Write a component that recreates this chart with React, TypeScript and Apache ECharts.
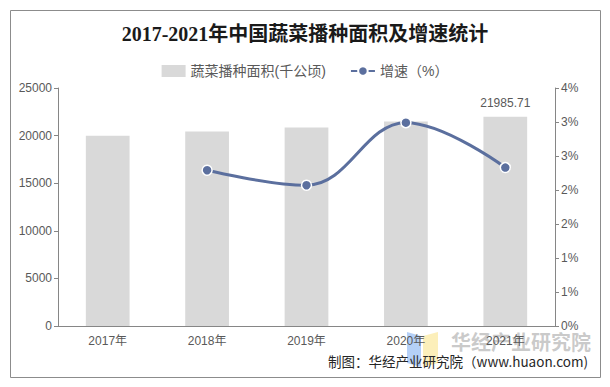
import React, { useEffect, useRef } from "react";
import * as echarts from "echarts";

const categories = ["2017年", "2018年", "2019年", "2020年", "2021年"];
const areaValues = [19981.1, 20439.3, 20862.7, 21485.5, 21985.71];
const growthValues: (number | null)[] = [null, 2.29, 2.07, 2.99, 2.33];
const titleText = "2017-2021年中国蔬菜播种面积及增速统计";
const sourceText = "制图：华经产业研究院（www.huaon.com)";
const watermarkText = "华经产业研究院";

export default function App() {
  const ref = useRef<HTMLDivElement>(null);
  useEffect(() => {
    if (!ref.current) return;
    const chart = echarts.init(ref.current, undefined, { renderer: "svg" });
    const axisColor = "#868686";
    const labelColor = "#595959";
    const sans = "'Liberation Sans', Arial, 'Noto Sans CJK SC', sans-serif";
    chart.setOption({
      animation: false,
      backgroundColor: "#ffffff",
      title: {
        text: titleText,
        left: "center",
        top: 19,
        textStyle: {
          fontFamily: "'Liberation Serif', 'Noto Sans CJK SC', serif",
          fontWeight: "bold",
          fontSize: 20,
          color: "#1a1a1a",
        },
      },
      legend: {
        top: 59,
        left: "center",
        itemGap: 24,
        itemWidth: 24,
        itemHeight: 12,
        textStyle: { color: labelColor, fontSize: 14, fontFamily: sans },
        data: [
          { name: "蔬菜播种面积(千公顷)", icon: "rect", itemStyle: { color: "#d9d9d9" } },
          { name: "增速（%）" },
        ],
      },
      grid: { left: 58, right: 55, top: 88, bottom: 61 },
      xAxis: {
        type: "category",
        data: categories,
        axisLine: { lineStyle: { color: axisColor } },
        axisTick: { lineStyle: { color: axisColor }, length: 5 },
        axisLabel: { color: labelColor, fontSize: 12, fontFamily: sans, margin: 9 },
      },
      yAxis: [
        {
          type: "value",
          min: 0,
          max: 25000,
          interval: 5000,
          axisLine: { show: true, lineStyle: { color: axisColor } },
          axisTick: { show: true, lineStyle: { color: axisColor }, length: 4 },
          splitLine: { show: false },
          axisLabel: {
            color: labelColor,
            fontSize: 12,
            fontFamily: sans,
            margin: 6,
            formatter: (v: number) => String(v),
          },
        },
        {
          type: "value",
          min: 0,
          max: 3.5,
          interval: 0.5,
          axisLine: { show: true, lineStyle: { color: axisColor } },
          axisTick: { show: true, lineStyle: { color: axisColor }, length: 4 },
          splitLine: { show: false },
          axisLabel: {
            color: labelColor,
            fontSize: 12,
            fontFamily: sans,
            margin: 6,
            formatter: (v: number) => Math.round(v) + "%",
          },
        },
      ],
      series: [
        {
          name: "蔬菜播种面积(千公顷)",
          type: "bar",
          data: areaValues.map((v, i) =>
            i === areaValues.length - 1
              ? {
                  value: v,
                  label: {
                    show: true,
                    position: "top",
                    distance: 8,
                    formatter: "21985.71",
                    color: labelColor,
                    fontSize: 12,
                    fontFamily: sans,
                  },
                }
              : v
          ),
          barWidth: "44%",
          itemStyle: { color: "#d9d9d9" },
        },
        {
          name: "增速（%）",
          type: "line",
          yAxisIndex: 1,
          data: growthValues,
          smooth: 0.4,
          symbol: "circle",
          symbolSize: 10,
          lineStyle: { color: "#5b6f9e", width: 3 },
          itemStyle: { color: "#5b6f9e", borderColor: "#ffffff", borderWidth: 1.5 },
        },
      ],
      graphic: [
        {
          type: "rect",
          shape: { x: 10.5, y: 10.5, width: 590, height: 367 },
          style: { fill: "none", stroke: "#8c8c8c", lineWidth: 1 },
          silent: true,
        },
        {
          type: "polygon",
          shape: { points: [[407, 332], [421, 336], [421, 367], [407, 363]] },
          style: { fill: "rgba(120,170,240,0.55)" },
          silent: true,
        },
        {
          type: "polygon",
          shape: { points: [[423, 336], [438, 332], [438, 363], [423, 367]] },
          style: { fill: "rgba(250,225,130,0.55)" },
          silent: true,
        },
        {
          type: "text",
          left: 451,
          top: 331,
          style: {
            text: watermarkText,
            fill: "rgba(150,150,150,0.5)",
            fontSize: 20,
            fontWeight: "bold",
            fontFamily: "'Noto Sans CJK SC', sans-serif",
          },
          silent: true,
        },
        {
          type: "text",
          right: 22,
          top: 354,
          style: {
            text: sourceText,
            fill: "#262626",
            fontSize: 13.5,
            fontFamily: "'Noto Sans CJK SC', 'Liberation Sans', sans-serif",
          },
          silent: true,
        },
      ],
    });
    return () => chart.dispose();
  }, []);
  return (
    <div
      ref={ref}
      style={{ position: "fixed", left: 0, top: 0, width: 610, height: 387 }}
    />
  );
}
